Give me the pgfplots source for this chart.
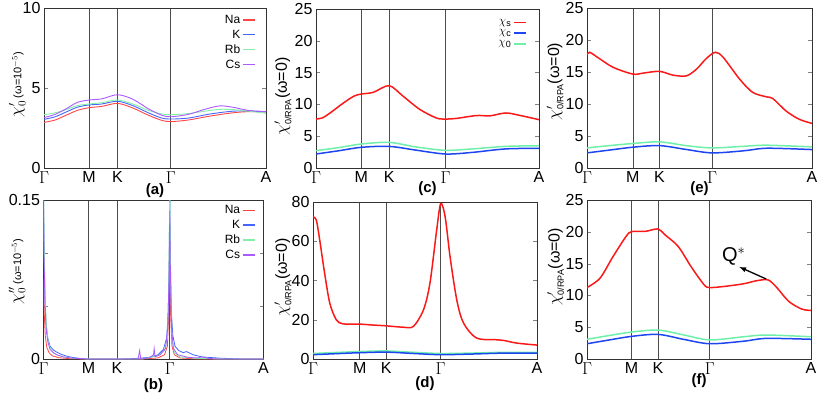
\documentclass[border=0pt]{standalone}
\usepackage{fontspec}
\setmainfont{Liberation Sans}
\usepackage{pgfplots}
\pgfplotsset{compat=1.18}

\definecolor{cNa}{RGB}{255,70,70}
\definecolor{cK}{RGB}{70,100,255}
\definecolor{cRb}{RGB}{130,240,170}
\definecolor{cCs}{RGB}{170,90,255}
\definecolor{cS}{RGB}{250,25,25}
\definecolor{cC}{RGB}{30,70,240}
\definecolor{cZ}{RGB}{110,240,170}

\pgfplotsset{
  panel/.style={
    scale only axis, anchor=south west,
    xmin=0, xmax=1, ymin=0,
    axis line style={draw=black!80, line width=0.8pt},
    tick align=inside, tick pos=both, major tick length=4pt,
    xtick style={draw=none},
    xmajorgrids, major grid style={black!70, line width=0.7pt},
    xticklabels={$\Gamma$,M,K,$\Gamma$,A},
    tick label style={font=\fontsize{16}{16}\selectfont},
    /pgf/number format/assume math mode=true,
    ylabel style={font=\fontsize{16}{16}\selectfont, anchor=center},
    xlabel style={at={(axis description cs:0.5,0)}, anchor=center, yshift=-23pt,
      font=\bfseries\fontsize{15}{15}\selectfont},
    legend style={draw=none, fill=none, anchor=north east,
      font=\fontsize{12}{12}\selectfont, row sep=1pt, inner sep=0pt},
    legend plot pos=right, legend cell align=right,
    legend image code/.code={\draw[sharp plot,#1,line width=1.5pt] plot coordinates {(0pt,0pt) (6pt,0pt) (12pt,0pt)};},
  },
  thin curve/.style={smooth, line width=0.9pt},
  thick curve/.style={smooth, line width=1.5pt},
}

\begin{document}
\begin{tikzpicture}
\useasboundingbox (0,0) rectangle (818pt,399pt);

% (a)
\begin{axis}[panel, at={(44pt,231pt)}, width=222pt, height=160pt,
  ymax=10, ytick={0,5,10}, xtick={0,0.203,0.331,0.571,1},
  ylabel={$\chi'_{0}$\,{\fontsize{11}{11}\selectfont(ω=10$^{-5}$)}},
  ylabel style={at={(axis description cs:-0.12,0.52)}},
  xlabel={(a)},
  legend style={at={(axis description cs:0.955,0.97)}}]
\addplot[thin curve, color=cNa] coordinates {(0,2.85)(0.05,3.0)(0.1,3.3)(0.15,3.6)(0.203,3.77)(0.26,3.85)(0.331,4.04)(0.4,3.75)(0.47,3.3)(0.53,2.98)(0.571,2.9)(0.65,3.0)(0.75,3.25)(0.85,3.45)(0.92,3.52)(1,3.5)};
\addplot[thin curve, color=cK] coordinates {(0,3.04)(0.05,3.2)(0.1,3.5)(0.15,3.8)(0.203,3.94)(0.26,4.0)(0.331,4.17)(0.4,3.9)(0.47,3.45)(0.53,3.12)(0.571,3.06)(0.65,3.12)(0.75,3.38)(0.85,3.55)(0.92,3.56)(1,3.52)};
\addplot[thin curve, color=cRb] coordinates {(0,3.33)(0.05,3.45)(0.1,3.65)(0.15,3.9)(0.203,4.0)(0.26,4.08)(0.331,4.25)(0.4,4.0)(0.47,3.6)(0.53,3.38)(0.571,3.33)(0.65,3.4)(0.75,3.6)(0.8,3.67)(0.88,3.62)(1,3.42)};
\addplot[thin curve, color=cCs] coordinates {(0,3.15)(0.05,3.35)(0.1,3.7)(0.15,4.1)(0.203,4.25)(0.26,4.32)(0.331,4.58)(0.4,4.3)(0.47,3.7)(0.53,3.3)(0.571,3.2)(0.65,3.35)(0.72,3.65)(0.79,3.88)(0.85,3.8)(0.92,3.6)(1,3.52)};
\legend{Na,K,Rb,Cs}
\end{axis}

% (b)
\begin{axis}[panel, at={(43.5pt,40pt)}, width=220pt, height=159pt,
  ymax=0.15, ytick={0,0.05,0.1,0.15}, yticklabels={0,,,0.15},
  xtick={0,0.205,0.334,0.574,1},
  ylabel={$\chi''_{0}$\,{\fontsize{11}{11}\selectfont(ω=10$^{-5}$)}},
  ylabel style={at={(axis description cs:-0.12,0.55)}},
  xlabel={(b)}, xlabel style={yshift=-4pt},
  legend style={at={(axis description cs:0.965,0.98)}}]
\addplot[sharp plot, line width=0.8pt, color=cNa] coordinates {(0,0.075)(0.004,0.04)(0.008,0.022)(0.015,0.011)(0.025,0.006)(0.04,0.003)(0.07,0.0012)(0.12,0.0003)(0.2,0)(0.45,0)(0.52,0.001)(0.55,0.004)(0.563,0.012)(0.569,0.04)(0.574,0.12)(0.578,0.04)(0.584,0.012)(0.595,0.004)(0.62,0.001)(0.7,0)(1,0)};
\addplot[sharp plot, line width=0.8pt, color=cK] coordinates {(0,0.16)(0.003,0.1)(0.007,0.055)(0.012,0.032)(0.02,0.019)(0.03,0.012)(0.045,0.0085)(0.06,0.0065)(0.08,0.0045)(0.1,0.003)(0.13,0.0015)(0.17,0.0005)(0.2,0)(0.35,0)(0.42,0.0005)(0.48,0.0015)(0.52,0.004)(0.545,0.009)(0.56,0.02)(0.567,0.045)(0.571,0.09)(0.574,0.16)(0.577,0.09)(0.581,0.045)(0.588,0.022)(0.598,0.012)(0.615,0.008)(0.635,0.006)(0.65,0.007)(0.66,0.006)(0.68,0.004)(0.72,0.002)(0.8,0.0008)(0.9,0)(1,0)};
\addplot[sharp plot, line width=0.8pt, color=cRb] coordinates {(0,0.16)(0.003,0.11)(0.007,0.065)(0.012,0.035)(0.02,0.018)(0.03,0.01)(0.045,0.006)(0.06,0.004)(0.09,0.002)(0.13,0.0008)(0.2,0)(0.45,0)(0.52,0.003)(0.55,0.008)(0.563,0.02)(0.569,0.06)(0.574,0.16)(0.578,0.07)(0.584,0.02)(0.595,0.006)(0.62,0.002)(0.7,0.0005)(0.8,0)(1,0)};
\addplot[sharp plot, line width=0.8pt, color=cCs] coordinates {(0,0.15)(0.003,0.09)(0.007,0.05)(0.012,0.028)(0.02,0.016)(0.03,0.009)(0.045,0.006)(0.06,0.004)(0.09,0.002)(0.13,0.0008)(0.2,0)(0.43,0)(0.437,0.008)(0.442,0)(0.48,0.001)(0.5,0.004)(0.503,0.01)(0.507,0.002)(0.53,0.004)(0.555,0.01)(0.565,0.03)(0.571,0.08)(0.574,0.14)(0.577,0.08)(0.582,0.03)(0.59,0.01)(0.61,0.004)(0.66,0.0015)(0.7,0.001)(0.72,0.002)(0.75,0.0005)(0.8,0)(1,0)};
\legend{Na,K,Rb,Cs}
\end{axis}

% (c)
\begin{axis}[panel, at={(316pt,231pt)}, width=223pt, height=159pt,
  ymax=25, ytick={0,5,...,25}, xtick={0,0.203,0.328,0.581,1},
  ylabel={$\chi'_{\mbox{\fontsize{9}{9}\selectfont 0/RPA}}$(ω=0)},
  ylabel style={at={(axis description cs:-0.148,0.45)}},
  xlabel={(c)}, xlabel style={yshift=2pt},
  legend style={at={(axis description cs:0.946,0.95)}, font=\fontsize{13}{13}\selectfont, row sep=0pt}]
\addplot[thick curve, color=cS] coordinates {(0,7.7)(0.03,7.9)(0.063,8.65)(0.122,10.2)(0.17,11.3)(0.203,11.63)(0.257,11.9)(0.328,12.95)(0.39,11.3)(0.466,9.2)(0.54,7.86)(0.581,7.7)(0.63,7.8)(0.72,8.25)(0.78,8.2)(0.85,8.65)(0.91,8.3)(1,7.6)};
\addplot[thick curve, color=cC] coordinates {(0,2.2)(0.1,2.7)(0.203,3.25)(0.328,3.4)(0.45,2.8)(0.581,2.2)(0.7,2.45)(0.85,3.0)(1,3.1)};
\addplot[thick curve, color=cZ] coordinates {(0,2.73)(0.1,3.2)(0.203,3.77)(0.328,4.03)(0.45,3.3)(0.581,2.78)(0.7,3.0)(0.85,3.4)(1,3.5)};
\legend{$\chi_{\mbox{\fontsize{9}{9}\selectfont s}}$,$\chi_{\mbox{\fontsize{9}{9}\selectfont c}}$,$\chi_{\mbox{\fontsize{9}{9}\selectfont 0}}$}
\end{axis}

% (d)
\begin{axis}[panel, at={(313pt,40pt)}, width=224pt, height=157pt,
  ymax=80, ytick={0,20,...,80}, xtick={0,0.209,0.327,0.570,1},
  ylabel={$\chi'_{\mbox{\fontsize{9}{9}\selectfont 0/RPA}}$(ω=0)},
  ylabel style={at={(axis description cs:-0.134,0.52)}},
  xlabel={(d)}, xlabel style={yshift=-2pt}]
\addplot[thick curve, color=cS] coordinates {(0,72.4)(0.015,70.7)(0.03,60.6)(0.052,43.6)(0.075,28.4)(0.104,20)(0.134,17.9)(0.209,17.8)(0.254,17.4)(0.327,16.9)(0.403,16.2)(0.448,16.6)(0.493,25)(0.522,38.6)(0.552,65.6)(0.57,79.2)(0.59,72.4)(0.612,52)(0.642,30)(0.672,18.3)(0.73,10.7)(0.82,9.8)(0.85,9.5)(0.91,8.1)(1,7.1)};
\addplot[thick curve, color=cZ] coordinates {(0,2.8)(0.1,3.3)(0.209,3.8)(0.327,4.1)(0.45,3.4)(0.57,2.8)(0.7,3.0)(0.85,3.4)(1,3.4)};
\addplot[thick curve, color=cC] coordinates {(0,2.2)(0.1,2.7)(0.209,3.2)(0.327,3.5)(0.45,2.8)(0.57,2.2)(0.7,2.5)(0.85,3.0)(1,3.0)};
\end{axis}

% (e)
\begin{axis}[panel, at={(587pt,231pt)}, width=225pt, height=160pt,
  ymax=25, ytick={0,5,...,25}, xtick={0,0.204,0.322,0.556,1},
  ylabel={$\chi'_{\mbox{\fontsize{9}{9}\selectfont 0/RPA}}$(ω=0)},
  ylabel style={at={(axis description cs:-0.142,0.54)}},
  xlabel={(e)}, xlabel style={yshift=2pt}]
\addplot[thick curve, color=cS] coordinates {(0,17.66)(0.012,18.08)(0.059,17.0)(0.118,15.7)(0.204,14.67)(0.25,14.83)(0.322,15.1)(0.383,14.5)(0.442,14.4)(0.487,15.46)(0.53,17.1)(0.57,18.08)(0.605,17.3)(0.678,13.9)(0.737,11.8)(0.8,11.1)(0.826,10.85)(0.885,8.9)(0.944,7.6)(1,6.97)};
\addplot[thick curve, color=cZ] coordinates {(0,3.14)(0.1,3.5)(0.204,3.83)(0.322,4.09)(0.44,3.5)(0.556,3.14)(0.7,3.4)(0.8,3.56)(1,3.3)};
\addplot[thick curve, color=cC] coordinates {(0,2.36)(0.1,2.8)(0.204,3.25)(0.322,3.5)(0.44,2.9)(0.556,2.36)(0.7,2.7)(0.8,3.09)(1,2.88)};
\end{axis}

% (f)
\begin{axis}[panel, at={(587pt,40pt)}, width=224pt, height=159pt,
  ymax=25, ytick={0,5,...,25}, xtick={0,0.199,0.317,0.548,1},
  ylabel={$\chi'_{\mbox{\fontsize{9}{9}\selectfont 0/RPA}}$(ω=0)},
  ylabel style={at={(axis description cs:-0.14,0.58)}},
  xlabel={(f)}, xlabel style={yshift=1pt}]
\addplot[thick curve, color=cS] coordinates {(0,11.24)(0.058,12.7)(0.116,16.1)(0.174,19.25)(0.199,20.03)(0.262,20.08)(0.317,20.45)(0.349,19.5)(0.407,17.7)(0.465,14.5)(0.523,11.66)(0.548,11.24)(0.61,11.4)(0.698,11.82)(0.756,12.3)(0.807,12.45)(0.843,11.4)(0.901,9.05)(0.959,7.85)(1,7.64)};
\addplot[thick curve, color=cZ] coordinates {(0,3.1)(0.1,3.7)(0.199,4.24)(0.317,4.55)(0.43,3.8)(0.548,3.0)(0.7,3.5)(0.8,3.77)(1,3.5)};
\addplot[thick curve, color=cC] coordinates {(0,2.4)(0.1,3.0)(0.199,3.56)(0.317,3.87)(0.43,3.1)(0.548,2.4)(0.7,2.8)(0.8,3.24)(1,3.1)};
\draw[-latex, line width=1.3pt] (axis cs:0.8,12.58) -- (axis cs:0.68,14.47);
\node[font=\fontsize{20}{20}\selectfont] at (axis cs:0.655,16.1) {Q$^{*}$};
\end{axis}
\end{tikzpicture}
\end{document}
